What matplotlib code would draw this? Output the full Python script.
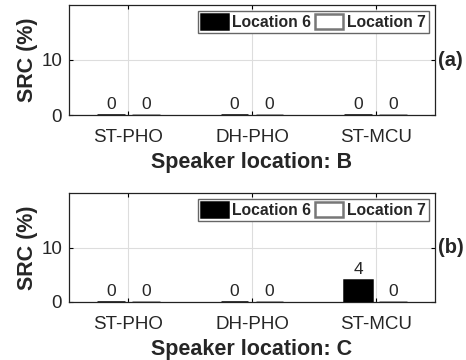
import matplotlib
matplotlib.use("Agg")
import matplotlib.pyplot as plt
import numpy as np

categories = ["ST-PHO", "DH-PHO", "ST-MCU"]
series_names = ["Location 6", "Location 7"]
src_b_loc6 = [0, 0, 0]
src_b_loc7 = [0, 0, 0]
src_c_loc6 = [0, 0, 4]
src_c_loc7 = [0, 0, 0]
panels = [
    ("Speaker location: B", "(a)", src_b_loc6, src_b_loc7),
    ("Speaker location: C", "(b)", src_c_loc6, src_c_loc7),
]

plt.rcParams["font.family"] = ["Liberation Sans", "DejaVu Sans"]

fig = plt.figure(figsize=(4.66, 3.6), dpi=100)
W, H = 466, 360
axes_boxes = [(69, 5, 435, 115), (69, 193, 435, 302)]

x = np.arange(1, len(categories) + 1)
off = 0.142
bw = 0.225
text_col = "#262626"

for (xlabel, tag, v6, v7), (l, t, r, b) in zip(panels, axes_boxes):
    ax = fig.add_axes([l / W, 1 - b / H, (r - l) / W, (b - t) / H])
    b6 = ax.bar(x - off, v6, bw, color="black", edgecolor="black", linewidth=1.8,
                label=series_names[0], zorder=3)
    b7 = ax.bar(x + off, v7, bw, color="white", edgecolor="#777777", linewidth=1.8,
                label=series_names[1], zorder=3)
    for bars, vals in ((b6, v6), (b7, v7)):
        for rect, v in zip(bars, vals):
            ax.text(rect.get_x() + rect.get_width() / 2, v + 0.5, f"{v:g}",
                    ha="center", va="bottom", fontsize=12.5, color=text_col, zorder=4)
    ax.set_xlim(0.52, 3.48)
    ax.set_ylim(0, 20)
    ax.set_yticks([0, 10])
    ax.set_xticks(x)
    ax.set_xticklabels(categories)
    ax.tick_params(labelsize=13.5, labelcolor=text_col)
    ax.tick_params(direction="in", top=True, right=True, length=3, width=0.8)
    ax.tick_params(axis="x", pad=10)
    ax.tick_params(axis="y", pad=5)
    ax.grid(True, color="#dddddd", linewidth=0.8, zorder=0)
    ax.set_axisbelow(True)
    for s in ax.spines.values():
        s.set_linewidth(0.9)
        s.set_color("#222222")
    ax.set_xlabel(xlabel, fontsize=15.5, fontweight="bold", labelpad=4.5, color=text_col)
    ax.set_ylabel("SRC (%)", fontsize=15.5, fontweight="bold", labelpad=2, color=text_col)
    ax.text(1.008, 0.5, tag, transform=ax.transAxes, fontsize=14.5,
            fontweight="bold", va="center", ha="left", color=text_col)
    leg = ax.legend(loc="upper right", ncol=2,
                    prop={"weight": "bold", "size": 11.3},
                    frameon=True, fancybox=False, handlelength=1.75,
                    handleheight=1.05, handletextpad=0.25, columnspacing=0.25,
                    borderpad=0.2, borderaxespad=0.4)
    for txt in leg.get_texts():
        txt.set_color(text_col)
    leg.get_frame().set_edgecolor("#666666")
    leg.get_frame().set_linewidth(1.0)
    leg.get_frame().set_alpha(1)

fig.savefig("out.png", dpi=100)
